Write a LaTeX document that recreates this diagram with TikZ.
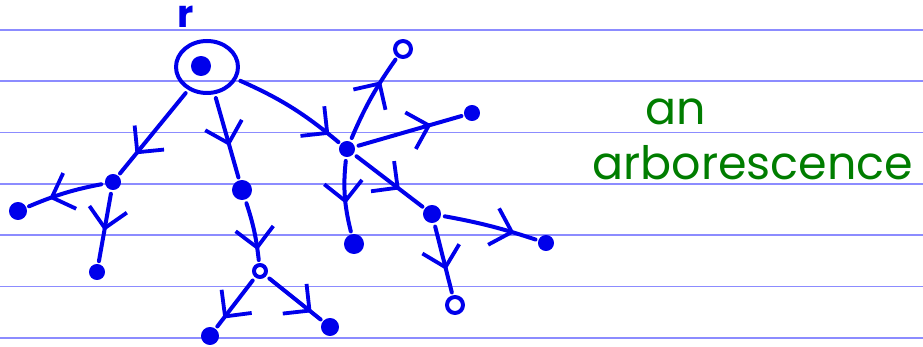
\documentclass[tikz,border=0pt]{standalone}
\usepackage{fontspec}
\newfontfamily\handfont{Poppins}
\usetikzlibrary{arrows.meta,decorations.markings,shapes.geometric}
\definecolor{ruleblue}{RGB}{140,140,255}
\definecolor{inkblue}{RGB}{0,0,235}
\definecolor{inkgreen}{RGB}{0,125,0}
\tikzset{
  ink/.style={draw=inkblue,line width=2pt,line cap=round,line join=round},
  leaf/.style={ink,circle,inner sep=0pt,minimum size=7pt},
  solidleaf/.style={leaf,fill=inkblue},
  edge/.style={ink,shorten <=2pt,shorten >=1.5pt},
  midarrow/.style={postaction={decorate,decoration={markings,
      mark=at position #1 with {\arrow[inkblue,line width=1.9pt,line cap=round]{Straight Barb[length=9.5pt,width=19pt]}}}}},
  midarrow/.default=0.7,
  ruled/.style={draw=ruleblue,line width=0.9pt},
  greentext/.style={text=inkgreen,font=\handfont\fontsize{23}{23}\selectfont,inner sep=0pt,anchor=base west}
}
\begin{document}
\begin{tikzpicture}[x=0.5pt,y=-0.5pt]
  \useasboundingbox (0,0) rectangle (923,347);
  % ruled paper
  \foreach \yy in {30,81.3,132.6,183.9,235.2,286.5,337.8}
    \draw[ruled] (0,\yy) -- (923,\yy);

  % root with its mark
  \node[ink,ellipse,minimum width=31pt,minimum height=26pt] (root) at (207,67) {};
  \node[solidleaf,minimum size=8pt] (rdot) at (201,66) {};
  \node[text=inkblue,font=\handfont\bfseries\fontsize{19}{19}\selectfont,inner sep=0pt,anchor=base] (rlabel) at (186,28) {r};

  % inner vertices
  \node[solidleaf,minimum size=6pt] (a) at (113,182) {};
  \node[solidleaf,minimum size=8pt] (b) at (242,190) {};
  \node[solidleaf,minimum size=6pt] (c) at (347,149) {};
  \node[leaf,minimum size=6pt] (b1) at (260,271) {};
  \node[solidleaf,minimum size=7pt] (c4) at (432,214) {};

  % leaves
  \node[solidleaf,minimum size=7pt] (a1) at (18,211) {};
  \node[solidleaf,minimum size=6pt] (a2) at (97,272) {};
  \node[leaf,minimum size=8pt] (c1) at (403,49) {};
  \node[solidleaf,minimum size=6pt] (c2) at (472,113) {};
  \node[solidleaf,minimum size=8pt] (c3) at (354,244) {};
  \node[solidleaf,minimum size=6pt] (c41) at (546,243) {};
  \node[leaf,minimum size=8pt] (c42) at (455,305) {};
  \node[solidleaf,minimum size=7pt] (b11) at (210,336) {};
  \node[solidleaf,minimum size=7pt] (b12) at (330,327) {};

  % arcs of the arborescence
  \draw[edge,midarrow=0.75] (root) -- (a);
  \draw[edge,midarrow=0.6] (root) -- (b);
  \draw[edge,midarrow=0.88] (root) to[bend left=8] (c);
  \draw[edge,midarrow=0.7] (c) to[bend left=6] (c1);
  \draw[edge,midarrow=0.7] (c) -- (c2);
  \draw[edge,midarrow=0.6] (c) to[bend right=10] (c3);
  \draw[edge,midarrow=0.65] (c) -- (c4);
  \draw[edge,midarrow=0.75] (c4) to[bend left=4] (c41);
  \draw[edge,midarrow=0.65] (c4) -- (c42);
  \draw[edge,midarrow=0.7] (a) to[bend right=6] (a1);
  \draw[edge,midarrow=0.55] (a) -- (a2);
  \draw[edge,midarrow=0.8] (b) to[bend left=6] (b1);
  \draw[edge,midarrow=0.8] (b1) -- (b11);
  \draw[edge,midarrow=0.8] (b1) -- (b12);

  % caption
  \node[greentext] (cap1) at (645,125) {an};
  \node[greentext] (cap2) at (592,180) {arborescence};
\end{tikzpicture}
\end{document}
